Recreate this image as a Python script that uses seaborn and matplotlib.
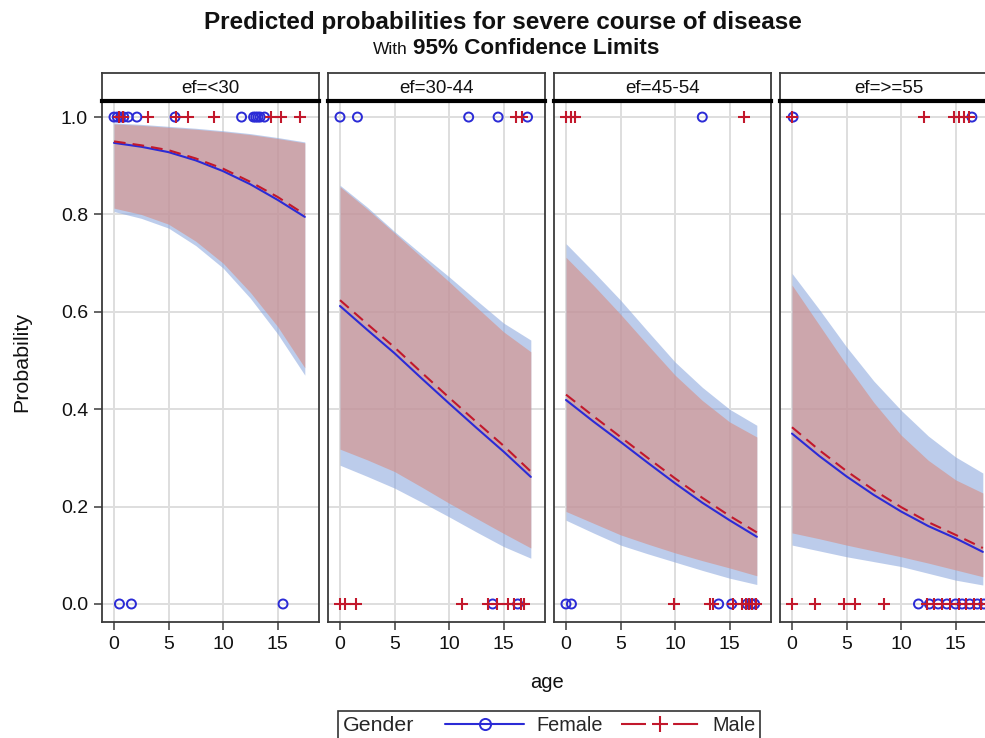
import numpy as np
import pandas as pd
import matplotlib
matplotlib.use("Agg")
import matplotlib.pyplot as plt
from matplotlib.lines import Line2D
from matplotlib.offsetbox import HPacker
import seaborn as sns

# ---------------- data ----------------
panels = ["ef=<30", "ef=30-44", "ef=45-54", "ef=>=55"]
ages = [0, 2.5, 5, 7.5, 10, 12.5, 15, 17.5]

female_pred = [
    [0.947, 0.939, 0.928, 0.911, 0.889, 0.862, 0.830, 0.795],
    [0.612, 0.563, 0.515, 0.463, 0.412, 0.362, 0.313, 0.261],
    [0.419, 0.375, 0.333, 0.290, 0.248, 0.208, 0.172, 0.138],
    [0.350, 0.304, 0.262, 0.224, 0.190, 0.160, 0.135, 0.107],
]
male_pred = [
    [0.950, 0.942, 0.932, 0.915, 0.894, 0.867, 0.836, 0.800],
    [0.624, 0.575, 0.527, 0.475, 0.424, 0.374, 0.325, 0.272],
    [0.430, 0.386, 0.343, 0.300, 0.258, 0.218, 0.181, 0.147],
    [0.363, 0.316, 0.273, 0.234, 0.199, 0.168, 0.142, 0.115],
]
female_upper = [
    [0.988, 0.985, 0.981, 0.977, 0.972, 0.966, 0.958, 0.949],
    [0.860, 0.815, 0.765, 0.718, 0.672, 0.624, 0.577, 0.542],
    [0.740, 0.683, 0.624, 0.560, 0.497, 0.445, 0.400, 0.367],
    [0.679, 0.605, 0.528, 0.458, 0.398, 0.345, 0.302, 0.269],
]
female_lower = [
    [0.806, 0.792, 0.772, 0.736, 0.690, 0.628, 0.555, 0.470],
    [0.285, 0.262, 0.238, 0.209, 0.179, 0.148, 0.118, 0.094],
    [0.172, 0.146, 0.121, 0.103, 0.086, 0.069, 0.053, 0.040],
    [0.121, 0.109, 0.097, 0.087, 0.077, 0.063, 0.049, 0.039],
]
male_upper = [
    [0.986, 0.983, 0.979, 0.975, 0.970, 0.964, 0.956, 0.947],
    [0.857, 0.811, 0.762, 0.712, 0.662, 0.610, 0.559, 0.518],
    [0.712, 0.655, 0.595, 0.532, 0.470, 0.418, 0.374, 0.343],
    [0.655, 0.573, 0.491, 0.414, 0.347, 0.295, 0.255, 0.228],
]
male_lower = [
    [0.813, 0.800, 0.780, 0.745, 0.700, 0.640, 0.570, 0.485],
    [0.318, 0.296, 0.272, 0.240, 0.207, 0.176, 0.145, 0.115],
    [0.190, 0.166, 0.142, 0.123, 0.105, 0.089, 0.074, 0.058],
    [0.146, 0.134, 0.121, 0.109, 0.097, 0.084, 0.070, 0.056],
]

# observed ages (outcome = 1 / outcome = 0)
female_obs1 = [
    [0.0, 0.3, 0.6, 0.9, 1.3, 2.1, 5.6, 11.7, 12.8, 13.0, 13.2, 13.4, 13.8],
    [0.0, 1.6, 11.8, 14.5, 17.2],
    [12.5],
    [0.1, 16.5],
]
male_obs1 = [
    [0.5, 0.8, 3.1, 5.7, 6.8, 9.2, 14.4, 15.3, 17.1],
    [16.1, 16.7],
    [0.0, 0.5, 0.8, 16.3],
    [0.0, 12.1, 14.9, 15.3, 15.8, 16.2],
]
female_obs0 = [
    [0.5, 1.6, 15.5],
    [14.0, 16.3],
    [0.0, 0.5, 14.0, 15.2, 16.6, 17.0, 17.3],
    [11.6, 12.6, 13.4, 14.2, 15.0, 15.6, 16.3, 17.0, 17.6],
]
male_obs0 = [
    [],
    [0.0, 0.5, 1.5, 11.2, 13.6, 14.4, 15.4, 16.0, 16.6, 16.9],
    [9.9, 13.2, 13.5, 15.3, 16.1, 16.5, 16.8, 17.1, 17.4],
    [0.0, 2.1, 4.8, 5.8, 8.4, 12.4, 13.0, 13.8, 14.5, 15.3, 16.0, 16.7, 17.3, 18.0],
]

x_ticks = [0, 5, 10, 15]
y_ticks = [0.0, 0.2, 0.4, 0.6, 0.8, 1.0]
y_ticklabels = ["0.0", "0.2", "0.4", "0.6", "0.8", "1.0"]

# ---------------- style ----------------
sns.set_theme(style="white")
plt.rcParams["font.family"] = ["Liberation Sans", "DejaVu Sans"]

BLUE = "#2b2bd6"
RED = "#c2182c"
BLUE_BAND = "#8ca8de"
RED_BAND = "#d88d82"
GRID = "#dedede"
FRAME = "#3a3a3a"
TXT = "#111111"
MALE_DASH = (0, (5.6, 3.4))

W, H = 985, 738
fig = plt.figure(figsize=(W / 100, H / 100), dpi=100)
fig.patch.set_facecolor("white")


def px_axes(left, top, width, height):
    return fig.add_axes([left / W, 1 - (top + height) / H, width / W, height / H])


lefts = [102, 328, 554, 780]
pw, ptop, ph = 217, 101, 521
htop, hh = 73, 28

for i, name in enumerate(panels):
    ax = px_axes(lefts[i], ptop, pw, ph)
    ax.set_facecolor("white")
    ax.set_xlim(-1.1, 18.8)
    ax.set_ylim(-0.037, 1.033)
    ax.set_xticks(x_ticks)
    ax.set_yticks(y_ticks)
    ax.grid(True, color=GRID, lw=1.4, zorder=0)
    ax.set_axisbelow(True)

    # confidence bands
    ax.fill_between(ages, female_lower[i], female_upper[i], color=BLUE_BAND,
                    alpha=0.58, lw=0, zorder=1)
    ax.fill_between(ages, male_lower[i], male_upper[i], color=RED_BAND,
                    alpha=0.6, lw=0, zorder=2)

    # predicted curves
    sns.lineplot(x=ages, y=female_pred[i], color=BLUE, lw=1.5, ax=ax, zorder=4)
    sns.lineplot(x=ages, y=male_pred[i], color=RED, lw=1.5, ax=ax, zorder=5,
                 linestyle=MALE_DASH)

    # observed points
    for obs, yv in ((female_obs1[i], 1.0), (female_obs0[i], 0.0)):
        if len(obs):
            sns.scatterplot(x=obs, y=[yv] * len(obs), marker="o", s=42,
                            facecolor="none", edgecolor=BLUE, linewidth=1.4,
                            ax=ax, zorder=6)
    for obs, yv in ((male_obs1[i], 1.0), (male_obs0[i], 0.0)):
        if len(obs):
            sns.scatterplot(x=obs, y=[yv] * len(obs), marker="+", s=70,
                            color=RED, linewidth=1.5, ax=ax, zorder=7)

    ax.set_xlabel("")
    ax.set_ylabel("")
    for sp in ax.spines.values():
        sp.set_color(FRAME)
        sp.set_linewidth(1.3)
    ax.tick_params(axis="x", which="both", bottom=True, length=6, width=1.1,
                   color=FRAME, labelsize=14, pad=4, labelcolor=TXT)
    ax.set_xticklabels([str(t) for t in x_ticks])
    if i == 0:
        ax.set_yticklabels(y_ticklabels)
        ax.tick_params(axis="y", left=True, length=6, width=1.1, color=FRAME,
                       labelsize=14, pad=4, labelcolor=TXT)
    else:
        ax.tick_params(axis="y", left=False, labelleft=False)

    # strip header
    hx = px_axes(lefts[i], htop, pw, hh)
    hx.set_xticks([])
    hx.set_yticks([])
    hx.set_facecolor("white")
    for sp in hx.spines.values():
        sp.set_color(FRAME)
        sp.set_linewidth(1.3)
    hx.spines["bottom"].set_color("black")
    hx.spines["bottom"].set_linewidth(3.0)
    hx.text(0.5, 0.45, name, ha="center", va="center", fontsize=13.5,
            color=TXT, transform=hx.transAxes)

# titles
fig.text(503 / W, 1 - 22 / H, "Predicted probabilities for severe course of disease",
         ha="center", va="center", fontsize=17.5, fontweight="bold", color=TXT)
fig.text(408 / W, 1 - 49 / H, "With", ha="right", va="center", fontsize=12.5,
         color=TXT)
fig.text(413 / W, 1 - 48 / H, "95% Confidence Limits", ha="left", va="center",
         fontsize=16.2, fontweight="bold", color=TXT)

# axis labels
fig.text(547 / W, 1 - 683 / H, "age", ha="center", va="center", fontsize=14.5,
         color=TXT)
fig.text(22 / W, 1 - 362 / H, "Probability", ha="center", va="center",
         fontsize=15.4, rotation=90, color=TXT)

# legend
h_f = Line2D([], [], color=BLUE, lw=1.5, marker="o", markersize=8,
             markerfacecolor="none", markeredgecolor=BLUE, markeredgewidth=1.4)
h_m = Line2D([], [], color=RED, lw=1.5, linestyle=(0, (12.0, 13.0)), marker="+",
             markersize=11, markeredgewidth=1.5)
leg = fig.legend(handles=[h_f, h_m], labels=["Female", "Male"], title="Gender",
                 ncol=2, loc="upper center", bbox_to_anchor=(549 / W, 1 - 711 / H),
                 fontsize=14.3, title_fontsize=15.4, frameon=True, fancybox=False,
                 handlelength=4.0, numpoints=1, columnspacing=0.9,
                 handletextpad=0.6, borderpad=0.25, edgecolor="black",
                 borderaxespad=0)
leg.get_frame().set_linewidth(1.2)
vbox = leg.get_children()[0]
title_box = vbox.get_children()[0]
hbox = vbox.get_children()[1]
row = HPacker(pad=0, sep=22, align="center", children=[title_box, hbox])
vbox._children = [row]

fig.savefig("out.png", dpi=100, facecolor="white")
